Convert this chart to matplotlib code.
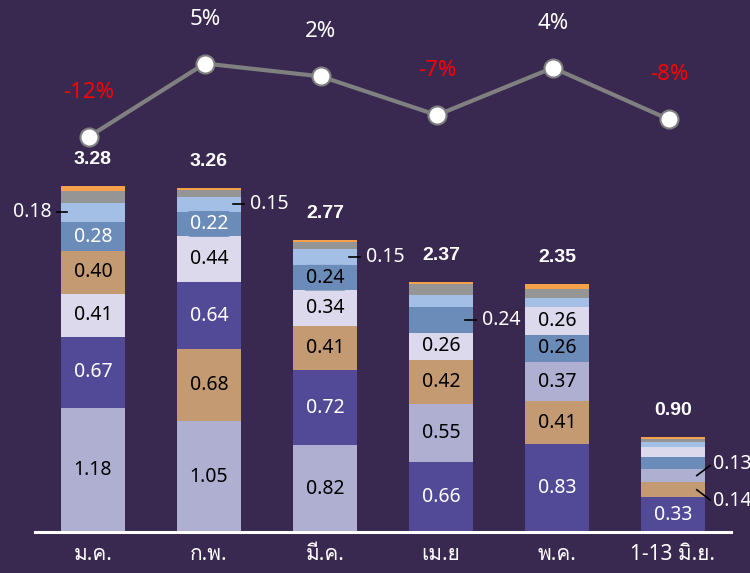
import matplotlib
matplotlib.use("Agg")
import matplotlib.pyplot as plt
from matplotlib import font_manager
from matplotlib.ft2font import FT2Font

months = ["ม.ค.", "ก.พ.", "มี.ค.", "เม.ย", "พ.ค.", "1-13 มิ.ย."]
totals = [3.28, 3.26, 2.77, 2.37, 2.35, 0.90]
growth = [-12, 5, 2, -7, 4, -8]

# segments (each bar is stacked largest at the bottom)
lavgray = [1.18, 1.05, 0.82, 0.55, 0.37, 0.13]
purple = [0.67, 0.64, 0.72, 0.66, 0.83, 0.33]
tan = [0.40, 0.68, 0.41, 0.42, 0.41, 0.14]
steel = [0.28, 0.22, 0.24, 0.24, 0.26, 0.11]
lavender = [0.41, 0.44, 0.34, 0.26, 0.26, 0.10]
lightblue = [0.18, 0.15, 0.15, 0.12, 0.09, 0.04]
gray = [0.11, 0.06, 0.07, 0.10, 0.08, 0.03]
orange = [0.05, 0.02, 0.02, 0.02, 0.05, 0.02]

series = [
    ("lavgray", lavgray, "#afafd2"),
    ("purple", purple, "#534a97"),
    ("tan", tan, "#c49a72"),
    ("steel", steel, "#6b8cb9"),
    ("lavender", lavender, "#dcd9ec"),
    ("lightblue", lightblue, "#a3bfe6"),
    ("gray", gray, "#959595"),
    ("orange", orange, "#f5a04a"),
]
colors = {name: c for name, vals, c in series}

# labels drawn outside the bars: (bar, series, side)
outside = [(0, "lightblue", "left"), (1, "lightblue", "right"), (2, "lightblue", "right"),
           (3, "steel", "right"), (5, "lavgray", "up"), (5, "tan", "down")]

# find a font that has Thai glyphs
thai_font = None
for f in font_manager.fontManager.ttflist:
    try:
        if ord("ม") in FT2Font(f.fname).get_charmap():
            thai_font = f.name
            break
    except Exception:
        pass
fams = ["Noto Sans"]
if thai_font:
    fams.append(thai_font)
fams.append("DejaVu Sans")
plt.rcParams["font.family"] = fams

bg = "#392850"
fig = plt.figure(figsize=(7.5, 5.73), dpi=100, facecolor=bg)
ax = fig.add_axes([35 / 750, 41 / 573, 696 / 750, 532 / 573])
ax.set_facecolor(bg)
ax.set_xlim(-0.5, 5.5)
ax.set_ylim(0, 532 / 105.5)
w = 0.55

seg_pos = {}
for i in range(len(months)):
    parts = sorted([(vals[i], name) for name, vals, c in series], key=lambda t: -t[0])
    bottom = 0
    for v, name in parts:
        ax.bar(i, v, w, bottom=bottom, color=colors[name], edgecolor="none")
        seg_pos[(i, name)] = (bottom + v / 2, v)
        label_it = v >= 0.22 and (i, name) not in [(3, "steel")] and name not in ("gray", "orange")
        if i == 5 and name == "purple":
            label_it = True
        if label_it:
            tc = "black"
            if name == "purple" or (name == "steel" and i < 2):
                tc = "white"
            box = None
            if name == "steel" and i in (1, 2):
                box = dict(boxstyle="round,pad=0.15,rounding_size=0.2", fc=colors["steel"], ec="none")
            ax.text(i, bottom + v / 2, f"{v:.2f}", ha="center", va="center",
                    fontsize=14, color=tc, bbox=box)
        bottom += v
    ax.annotate(f"{totals[i]:.2f}", (i, totals[i]), xytext=(0, 19), textcoords="offset points",
                ha="center", va="center", fontsize=14, fontweight="bold", color="white",
                family=["Liberation Sans", "DejaVu Sans"])

for i, name, side in outside:
    y, v = seg_pos[(i, name)]
    if side == "left":
        ax.plot([i - w / 2 - 0.035, i - w / 2 + 0.05], [y, y], color="black", lw=1.2)
        ax.text(i - w / 2 - 0.08, y, f"{v:.2f}", ha="right", va="center", fontsize=14, color="white")
    elif side == "right":
        ax.plot([i + w / 2 - 0.07, i + w / 2 + 0.025], [y, y], color="black", lw=1.2)
        ax.text(i + w / 2 + 0.075, y, f"{v:.2f}", ha="left", va="center", fontsize=14, color="white")
    else:
        dy = 0.095 if side == "up" else -0.095
        ax.plot([i + w / 2 - 0.07, i + w / 2 + 0.045], [y, y + dy], color="black", lw=1.2)
        ax.text(i + w / 2 + 0.07, y + dy * 1.15, f"{v:.2f}", ha="left", va="center",
                fontsize=14, color="white")

for s in ["top", "left", "right"]:
    ax.spines[s].set_visible(False)
ax.spines["bottom"].set_color("white")
ax.spines["bottom"].set_linewidth(2.2)
ax.set_yticks([])
ax.set_xticks(range(len(months)))
ax.set_xticklabels(months)
ax.tick_params(axis="x", length=0, pad=9, labelsize=15, colors="white")

# growth line on its own scale
ax2 = ax.twinx()
ax2.set_ylim(5 - (532 - 63.5) / 4.3, 5 + 63.5 / 4.3)
ax2.axis("off")
xs = [i - 0.035 for i in range(len(months))]
ax2.plot(xs, growth, color="#808080", lw=3, marker="o", markersize=13,
         markerfacecolor="white", markeredgecolor="#808080", markeredgewidth=1.5, zorder=3)
for x, g in zip(xs, growth):
    ax2.annotate(f"{g}%", (x, g), xytext=(0, 32), textcoords="offset points", ha="center",
                 va="center", fontsize=16, color="#ff0000" if g < 0 else "white")

plt.savefig("out.png", dpi=100, facecolor=bg)
